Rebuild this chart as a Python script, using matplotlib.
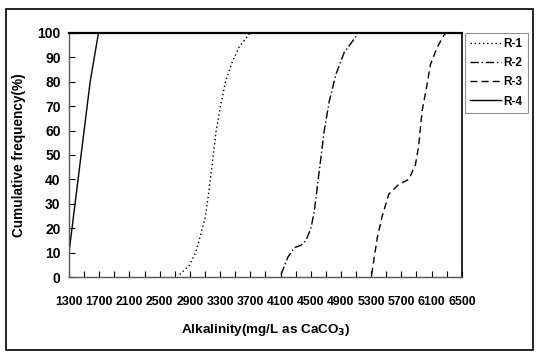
import matplotlib
matplotlib.use("Agg")
import matplotlib.pyplot as plt
from matplotlib.patches import Rectangle

plt.rcParams["font.family"] = ["Liberation Sans", "DejaVu Sans"]
plt.rcParams["font.weight"] = "bold"

# cumulative frequency curves, alkalinity in mg/L as CaCO3
r1_x = [2766, 2898, 2975, 3041, 3107, 3151, 3195, 3248, 3305, 3371, 3459, 3548, 3658, 3700, 6500]
r1_y = [1, 5, 10, 17, 25, 35, 46, 60, 70, 80, 88, 94, 98.5, 100, 100]

r2_x = [4107, 4195, 4283, 4371, 4437, 4503, 4547, 4591, 4635, 4679, 4745, 4833, 4943, 5097, 5130, 6500]
r2_y = [1, 8, 12, 13, 15, 20, 27, 38, 49, 60, 72, 83, 92, 98.5, 100, 100]

r3_x = [5306, 5380, 5446, 5534, 5666, 5798, 5886, 5930, 5974, 6040, 6084, 6172, 6260, 6290, 6500]
r3_y = [1, 16, 25, 34, 38, 40, 46, 54, 68, 79, 87, 94, 99, 100, 100]

r4_x = [1300, 1580, 1690, 6500]
r4_y = [10, 80, 100, 100]

series = [
    ("R-1", r1_x, r1_y, (0, (1, 2))),
    ("R-2", r2_x, r2_y, (0, (6, 2, 1, 2))),
    ("R-3", r3_x, r3_y, (0, (5, 3))),
    ("R-4", r4_x, r4_y, "-"),
]

x_ticks = list(range(1300, 6501, 400))
y_ticks = list(range(0, 101, 10))

fig = plt.figure(figsize=(5.37, 3.54), dpi=100)
ax = fig.add_axes([0.1285, 0.2175, 0.7315, 0.6893])

for name, xs, ys, ls in series:
    ax.plot(xs, ys, color="black", linestyle=ls, linewidth=1.0, label=name)

ax.set_xlim(1300, 6500)
ax.set_ylim(0, 100)
ax.set_xticks(x_ticks)
ax.set_xticks(range(1300, 6501, 200), minor=True)
ax.set_yticks(y_ticks)
ax.tick_params(axis="both", which="both", direction="in", length=4, width=0.8)
ax.tick_params(axis="x", which="both", pad=14, labelsize=8.8)
ax.tick_params(axis="y", pad=6, labelsize=10)
for lab in ax.get_xticklabels() + ax.get_yticklabels():
    lab.set_fontweight("bold")

for side in ["left", "bottom"]:
    ax.spines[side].set_color("#555555")
    ax.spines[side].set_linewidth(1.0)
ax.spines["top"].set_linewidth(1.6)
ax.spines["right"].set_linewidth(1.2)

ax.set_xlabel("Alkalinity(mg/L as CaCO$_3$)", fontsize=9.7, fontweight="bold", labelpad=10)
ax.set_ylabel("Cumulative frequency(%)", fontsize=9.8, fontweight="bold", labelpad=8)

leg = ax.legend(loc="upper left", bbox_to_anchor=(465 / 537, 1 - 33 / 354),
                bbox_transform=fig.transFigure, fontsize=8.5, frameon=True,
                fancybox=False, edgecolor="#777777", handlelength=2.6,
                handletextpad=0.2, borderpad=0.45, labelspacing=0.6,
                borderaxespad=0)
leg.get_frame().set_linewidth(0.8)
for t in leg.get_texts():
    t.set_fontweight("bold")

# outer frame around the whole figure
fig.patches.append(Rectangle((6 / 537, 4 / 354), 527 / 537, 341 / 354,
                             transform=fig.transFigure, fill=False,
                             edgecolor="black", linewidth=1.2))

fig.savefig("out.png", dpi=100)
